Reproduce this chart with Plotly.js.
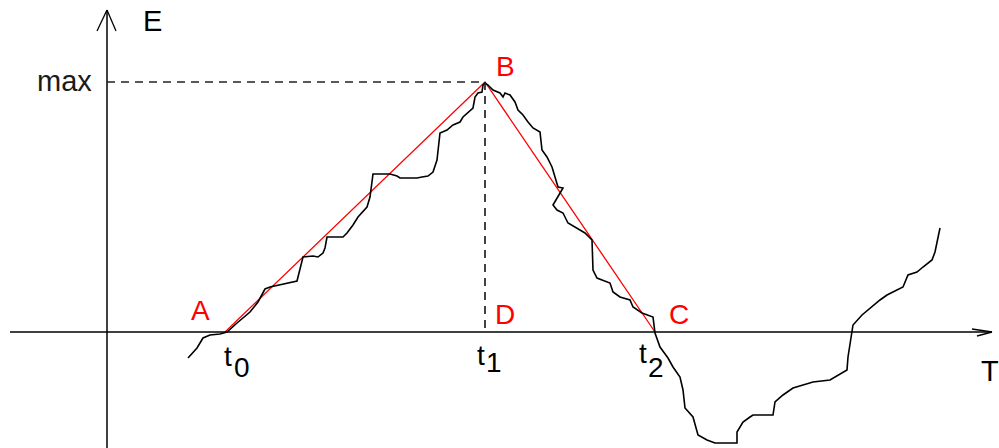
<!DOCTYPE html>
<html>
<head>
<meta charset="utf-8">
<script src="https://cdn.plot.ly/plotly-3.0.1.min.js"></script>
<style>html,body{margin:0;padding:0;background:#fff;}#chart{width:999px;height:448px;}</style>
</head>
<body>
<div id="chart"></div>
<script>
// Energy curve E(T) (T origin at the vertical axis, E origin at the horizontal axis)
var curveT = [81,90,96,103,113,120,130,143,151,158,163,173,180,190,191,196,206,211,216,218,220,236,240,246,251,260,263,265,266,283,290,293,310,315,321,326,330,333,340,346,353,356,363,366,368,371,375,376,378,
  381,386,390,393,396,398,403,408,411,416,421,426,433,435,440,445,448,451,456,453,446,450,456,461,470,478,485,486,490,503,506,513,523,526,535,546,548,553,561,566,573,576,578,586,591,600,608,630,630,636,643,646,666,668,676,686,696,706,723,736,740,741,745,746,755,763,773,780,790,796,801,810,816,825,828,831,833];
var curveE = [-26,-16,-6,-3,-2,0,9,20,30,43,45,47,49,51,55,75,76,75,79,84,95,95,99,107,115,125,135,155,158,158,156,154,154,155,156,160,172,199,202,207,210,215,222,224,235,239,240,247,249,
  247,242,240,239,235,239,237,230,222,217,210,204,200,182,175,165,155,145,144,139,127,122,119,109,104,99,92,62,54,49,40,35,32,25,19,15,-1,-15,-26,-35,-45,-58,-76,-85,-103,-108,-111,-111,-100,-90,-85,-83,-83,-70,-63,-56,-53,-50,-48,-40,-38,-25,-1,7,17,24,32,37,42,45,57,60,65,72,80,94,104];

// Triangle A-B-C
var triT = [118, 378, 548];
var triE = [0, 250, 0];

// Reference levels
var maxE = 250;
var t1 = 378;

// Axes extents
var axisTmin = -97, axisTmax = 885;
var axisEmin = -116, axisEmax = 322;

// Labels
var labelText = ['E', 'max', 'T', 'A', 'B', 'C', 'D', 't', '0', 't', '1', 't', '2'];
var labelT    = [45, -43, 883, 93, 398, 572, 398, 121, 135, 374, 387, 536, 549];
var labelE    = [311, 251, -39, 22, 266, 18, 18, -24, -35, -23, -30, -21, -35];
var labelColor= ['#000', '#1a1a1a', '#000', '#ff0000', '#ff0000', '#ff0000', '#ff0000', '#000', '#000', '#000', '#000', '#000', '#000'];
var labelSize = [29, 29, 29, 28, 28, 28, 28, 28, 28, 28, 28, 28, 28];

var traces = [
  {x: triT, y: triE, mode: 'lines', line: {color: '#ff0000', width: 1.3}, hoverinfo: 'skip'},
  {x: curveT, y: curveE, mode: 'lines', line: {color: '#000', width: 1.6}, hoverinfo: 'skip'}
];

var shapes = [
  // horizontal axis
  {type: 'line', x0: axisTmin, x1: axisTmax, y0: 0, y1: 0, line: {color: '#000', width: 1.5}},
  {type: 'line', x0: axisTmax - 20, x1: axisTmax, y0: 3, y1: 0, line: {color: '#000', width: 1.5}},
  {type: 'line', x0: axisTmax - 15, x1: axisTmax, y0: -4, y1: 0, line: {color: '#000', width: 1.5}},
  // vertical axis
  {type: 'line', x0: 0, x1: 0, y0: axisEmin, y1: axisEmax, line: {color: '#000', width: 1.5}},
  {type: 'line', x0: -10, x1: 0, y0: axisEmax - 21, y1: axisEmax, line: {color: '#000', width: 1.3}},
  {type: 'line', x0: 9, x1: 0, y0: axisEmax - 21, y1: axisEmax, line: {color: '#000', width: 1.3}},
  // dashed guides
  {type: 'line', x0: 0, x1: t1, y0: maxE, y1: maxE, line: {color: '#222', width: 1.7, dash: '8px,6px'}},
  {type: 'line', x0: t1, x1: t1, y0: maxE, y1: 0, line: {color: '#222', width: 1.7, dash: '8px,6px'}}
];

var annotations = labelText.map(function (t, i) {
  return {x: labelT[i], y: labelE[i], text: t, showarrow: false, xanchor: 'center', yanchor: 'middle',
    font: {family: 'Liberation Sans, Arial, sans-serif', size: labelSize[i], color: labelColor[i]}};
});

var layout = {
  width: 999, height: 448,
  margin: {l: 0, r: 0, t: 0, b: 0},
  paper_bgcolor: '#fff', plot_bgcolor: '#fff',
  showlegend: false,
  xaxis: {range: [-107, 892], visible: false, fixedrange: true},
  yaxis: {range: [-116, 332], visible: false, fixedrange: true},
  shapes: shapes,
  annotations: annotations
};

Plotly.newPlot('chart', traces, layout, {staticPlot: true, displayModeBar: false});
</script>
</body>
</html>
